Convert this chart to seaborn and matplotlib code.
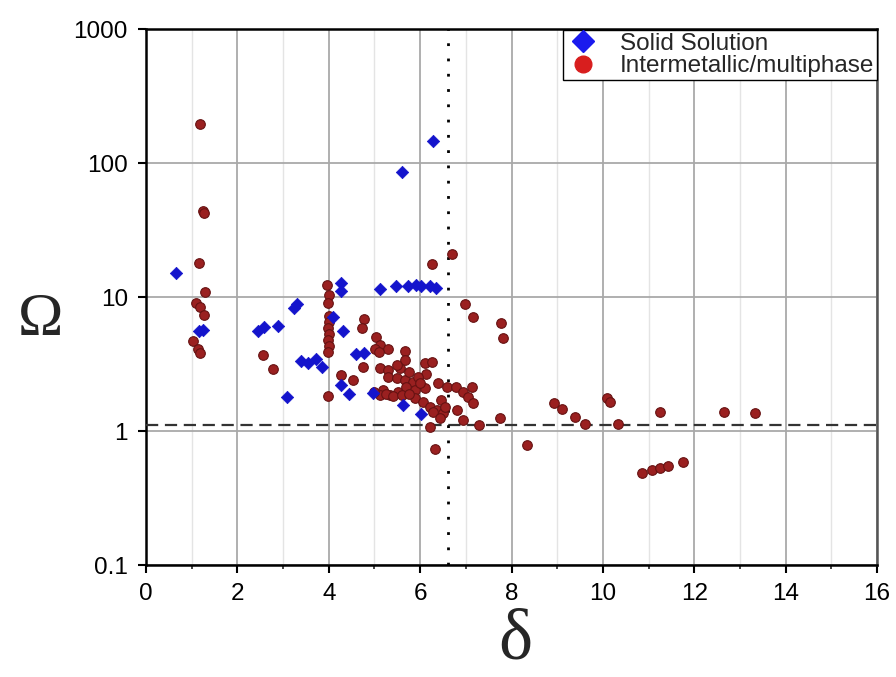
import matplotlib
matplotlib.use("Agg")
import matplotlib.pyplot as plt
import seaborn as sns
import pandas as pd
from matplotlib.lines import Line2D
from matplotlib.ticker import NullLocator

# ---------------- data ----------------
ss_delta = [0.65, 1.15, 1.25, 2.45, 2.58, 2.89, 3.25, 3.30, 3.39, 3.54, 3.72, 3.85, 3.09,
            4.27, 4.27, 4.09, 4.31, 4.60, 4.77, 4.27, 4.44, 5.60, 6.28,
            5.12, 5.47, 5.73, 5.90, 6.02, 6.21, 6.35, 4.97, 5.62, 6.02]
ss_omega = [15.2, 5.6, 5.7, 5.6, 5.95, 6.1, 8.3, 8.8, 3.33, 3.22, 3.45, 3.0, 1.79,
            12.7, 11.1, 7.1, 5.6, 3.75, 3.8, 2.2, 1.89, 85.7, 146,
            11.5, 12.1, 12.1, 12.2, 12.1, 12.0, 11.7, 1.92, 1.56, 1.34]

im_delta = [1.18, 1.25, 1.28, 1.16, 1.29, 1.09, 1.18, 1.27, 1.03, 1.14, 1.18,
            2.56, 2.78,
            3.97, 4.00, 3.98, 4.00, 4.00, 3.98, 4.00, 3.99, 4.00, 3.98, 3.98,
            4.77, 4.72, 4.75, 4.27, 4.53,
            5.03, 5.12, 5.01, 5.30, 5.10, 5.67, 5.12, 5.30, 5.56, 5.67, 6.10, 6.26, 6.13,
            6.39, 6.59, 5.30, 5.49, 5.67, 5.84, 5.19, 5.12, 5.34, 5.51, 5.70, 5.89, 6.10,
            5.89, 6.06, 6.21, 6.37, 6.50, 6.28, 6.43, 6.21, 6.32,
            5.25, 5.40, 5.60, 5.75, 5.00, 5.75, 5.95, 6.00, 5.50, 6.45, 6.55,
            6.70, 6.26, 6.98, 7.16, 7.77, 7.81, 6.78, 6.94, 7.05, 7.16, 7.13, 6.80, 6.94,
            7.28, 7.75, 8.34, 8.93, 9.10, 9.39, 9.60, 10.09, 10.15, 10.33, 11.25, 12.65,
            13.33, 10.85, 11.07, 11.25, 11.42, 11.75]
im_omega = [195, 44, 42, 17.9, 10.9, 9.0, 8.4, 7.35, 4.7, 4.1, 3.8,
            3.7, 2.9,
            12.3, 10.3, 9.0, 7.2, 6.5, 5.9, 5.3, 4.8, 4.3, 3.9, 1.82,
            6.9, 5.9, 3.0, 2.62, 2.4,
            5.0, 4.4, 4.1, 4.1, 3.9, 3.95, 2.95, 2.85, 2.95, 3.39, 3.2, 3.27, 2.66,
            2.28, 2.13, 2.53, 2.48, 2.4, 2.32, 2.02, 1.86, 1.86, 1.95, 2.13, 2.02, 2.09,
            1.76, 1.65, 1.51, 1.43, 1.36, 1.39, 1.25, 1.07, 0.73,
            1.9, 1.82, 1.85, 1.9, 1.95, 2.75, 2.55, 2.3, 3.1, 1.7, 1.5,
            20.9, 17.6, 8.9, 7.1, 6.4, 4.94, 2.13, 1.95, 1.79, 1.62, 2.13, 1.43, 1.21,
            1.1, 1.25, 0.79, 1.62, 1.46, 1.27, 1.13, 1.76, 1.65, 1.13, 1.39, 1.39,
            1.36, 0.486, 0.51, 0.53, 0.55, 0.587]

labels = ["Solid Solution", "Intermetallic/multiphase"]
y_ticks = [0.1, 1, 10, 100, 1000]
y_tick_labels = ["0.1", "1", "10", "100", "1000"]
x_ticks = list(range(0, 17, 2))
omega_crit = 1.1
delta_crit = 6.6

ss_df = pd.DataFrame({"delta": ss_delta, "omega": ss_omega, "phase": labels[0]})
im_df = pd.DataFrame({"delta": im_delta, "omega": im_omega, "phase": labels[1]})

# ---------------- style ----------------
sns.set_theme(style="white")
plt.rcParams["font.family"] = ["Liberation Sans", "DejaVu Sans"]

blue = "#1414cc"
red = "#9a2020"
red_edge = "#661212"

fig = plt.figure(figsize=(8.96, 6.77), dpi=100)
ax = fig.add_axes([146 / 896, 1 - 565 / 677, (877 - 146) / 896, (565 - 29) / 677])

sns.scatterplot(data=im_df, x="delta", y="omega", color=red, marker="o", s=48,
                edgecolor=red_edge, linewidth=0.8, ax=ax, legend=False, zorder=4)
sns.scatterplot(data=ss_df, x="delta", y="omega", color=blue, marker="D", s=40,
                edgecolor=blue, linewidth=0.5, ax=ax, legend=False, zorder=5)

ax.set_yscale("log")
ax.set_xlim(0, 16)
ax.set_ylim(0.1, 1000)
ax.set_xticks(x_ticks)
ax.set_xticks(range(1, 16, 2), minor=True)
ax.set_yticks(y_ticks)
ax.set_yticklabels(y_tick_labels)
ax.yaxis.set_minor_locator(NullLocator())

ax.grid(True, which="major", color="#a9a9a9", lw=1.3, zorder=0)
ax.grid(True, which="minor", axis="x", color="#e4e4e4", lw=1.0, zorder=0)
ax.set_axisbelow(True)

ax.axhline(omega_crit, color="#333333", lw=1.6, dashes=(5.5, 3), zorder=3)
ax.axvline(delta_crit, color="black", lw=2.0, dashes=(1, 4.5), zorder=3)

ax.tick_params(which="major", direction="out", length=6, width=1.5, colors="black",
               labelsize=17.5, bottom=True, left=True)
ax.tick_params(axis="y", which="major", pad=7)
ax.tick_params(axis="x", which="major", pad=7)
ax.tick_params(which="minor", direction="out", length=3, width=1.2, bottom=True)
for sp in ax.spines.values():
    sp.set_color("black")
    sp.set_linewidth(1.8)
ax.spines["right"].set_color("#555555")

ax.set_xlabel("")
ax.set_ylabel("")
fig.text(41 / 896, 1 - 320 / 677, "Ω", fontsize=44, ha="center", va="center",
         family=["Liberation Serif", "DejaVu Serif"])
fig.text(515 / 896, 1 - 641 / 677, "δ", fontsize=52, ha="center", va="center",
         family=["Liberation Serif", "DejaVu Serif"])

handles = [Line2D([], [], marker="D", linestyle="None", markerfacecolor="#1a1aee",
                  markeredgecolor="#1a1aee", markersize=11),
           Line2D([], [], marker="o", linestyle="None", markerfacecolor="#d81e1e",
                  markeredgecolor="#d81e1e", markersize=12)]
leg = ax.legend(handles, labels, loc="upper right", bbox_to_anchor=(1.0, 0.998),
                borderaxespad=0.0, frameon=True,
                fancybox=False, edgecolor="black", framealpha=1, fontsize=17.5,
                handletextpad=0.8, borderpad=0.12, labelspacing=0.0, handlelength=1.4)
leg.get_frame().set_linewidth(1.0)

fig.savefig("out.png", dpi=100)
